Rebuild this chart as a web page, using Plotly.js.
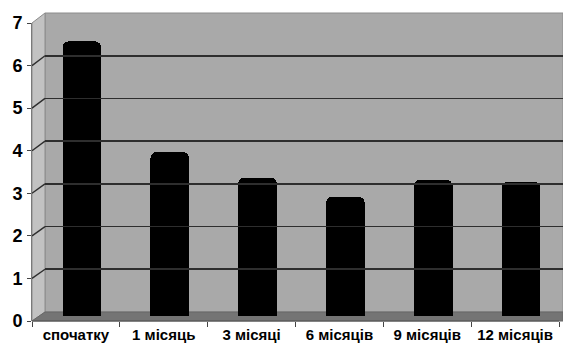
<!DOCTYPE html>
<html>
<head>
<meta charset="utf-8">
<script src="https://cdn.plot.ly/plotly-3.0.1.min.js"></script>
<style>html,body{margin:0;padding:0;background:#fff;}#chart{width:563px;height:349px;}</style>
</head>
<body>
<div id="chart"></div>
<script>
// Data
const categories = ["спочатку", "1 місяць", "3 місяці", "6 місяців", "9 місяців", "12 місяців"];
const values = [6.45, 3.85, 3.25, 2.8, 3.2, 3.15];
const yTickVals = [0, 1, 2, 3, 4, 5, 6, 7];
const gridVals = [1, 2, 3, 4, 5, 6];
const yMax = 7;

// Geometry (pixels)
const W = 563, H = 349;
const L = 32, R = 0, T = 13, B = 28;
const plotW = W - L - R, plotH = H - T - B;   // 531 x 308
const frontW = 527, frontH = 298;            // front axes length
const dx = 13, dy = 9;                        // 3D depth offset
const unitX = frontW / categories.length;
const xMax = -0.5 + plotW / unitX;
const px = v => v / plotW, py = v => v / plotH;
const frontTop = py(frontH);
const wallX0 = px(dx), wallY0 = py(dy);

const shapes = [
  // back wall
  {type: 'rect', xref: 'paper', yref: 'paper', x0: wallX0, x1: 1, y0: wallY0, y1: 1,
   fillcolor: '#a9a9a9', line: {color: '#8c8c8c', width: 1}, layer: 'below'},
  // side wall
  {type: 'path', xref: 'paper', yref: 'paper',
   path: `M0,0 L${wallX0},${wallY0} L${wallX0},1 L0,${frontTop} Z`,
   fillcolor: '#c2c2c2', line: {color: '#8c8c8c', width: 1}, layer: 'below'},
  // floor
  {type: 'path', xref: 'paper', yref: 'paper',
   path: `M0,0 L${wallX0},${wallY0} L1,${wallY0} L1,0 Z`,
   fillcolor: '#747474', line: {color: '#666', width: 1}, layer: 'below'},
  // front x-axis line
  {type: 'line', xref: 'paper', yref: 'paper', x0: 0, x1: px(frontW), y0: 0, y1: 0,
   line: {color: '#555', width: 1}, layer: 'above'}
];
// oblique grid lines on the side wall (from each front tick to the back wall grid line)
gridVals.forEach(v => {
  shapes.push({type: 'line', xref: 'paper', yref: 'paper',
    x0: 0, y0: frontTop * v / yMax,
    x1: wallX0, y1: wallY0 + (1 - wallY0) * v / yMax,
    line: {color: '#2e2e2e', width: 1.4}, layer: 'below'});
});

const barShiftPx = 6, barBasePx = 5;
const barWidth = 0.44;

const bars = {
  type: 'bar',
  x: categories,
  y: values,
  xaxis: 'x',
  yaxis: 'y3',
  width: barWidth,
  offset: -barWidth / 2 + barShiftPx / unitX,
  marker: {color: '#000000', line: {color: '#000000', width: 0}, cornerradius: 6},
  hoverinfo: 'skip'
};

// invisible traces so that the front axes and back-wall subplot exist
const frontTrace = {
  type: 'scatter', x: [categories[0]], y: [0], xaxis: 'x', yaxis: 'y',
  mode: 'markers', marker: {opacity: 0}, hoverinfo: 'skip', showlegend: false
};
const wallTrace = {
  type: 'scatter', x: [0], y: [0], xaxis: 'x2', yaxis: 'y2',
  mode: 'markers', marker: {opacity: 0}, hoverinfo: 'skip', showlegend: false
};

const layout = {
  width: W, height: H,
  margin: {l: L, r: R, t: T, b: B, pad: 0},
  paper_bgcolor: '#ffffff',
  plot_bgcolor: 'rgba(0,0,0,0)',
  showlegend: false,
  bargap: 0,
  font: {family: 'Liberation Sans, Arial, sans-serif', color: '#000'},
  xaxis: {
    domain: [0, 1], anchor: 'y', type: 'category', categoryarray: categories,
    range: [-0.5, xMax], showgrid: false, zeroline: false,
    showline: false, ticks: 'outside', ticklen: 5, tickcolor: '#444', tickwidth: 1,
    tickson: 'boundaries', ticklabelstandoff: 3,
    tickfont: {size: 15, weight: 'bold', color: '#000'},
    fixedrange: true
  },
  yaxis: {
    domain: [0, frontTop], anchor: 'x', range: [0, yMax],
    tickvals: yTickVals, showgrid: false, zeroline: false,
    showline: true, linecolor: '#7a7a7a', linewidth: 1,
    ticks: 'outside', ticklen: 4, tickcolor: '#444',
    ticklabelstandoff: 1,
    tickfont: {size: 18, weight: 'bold', color: '#000'},
    fixedrange: true
  },
  xaxis2: {
    domain: [wallX0, 1], anchor: 'y2', range: [0, 1],
    visible: false, fixedrange: true
  },
  yaxis2: {
    domain: [wallY0, 1], anchor: 'x2', range: [0, yMax],
    tickvals: gridVals, showgrid: true, gridcolor: '#2e2e2e', gridwidth: 1.6,
    showticklabels: false, ticks: '', zeroline: false, showline: false,
    fixedrange: true
  },
  yaxis3: {
    domain: [py(barBasePx), py(barBasePx + frontH)], anchor: 'x', range: [0, yMax],
    visible: false, fixedrange: true
  },
  shapes: shapes
};

Plotly.newPlot('chart', [wallTrace, frontTrace, bars], layout, {displayModeBar: false, staticPlot: true});
</script>
</body>
</html>
